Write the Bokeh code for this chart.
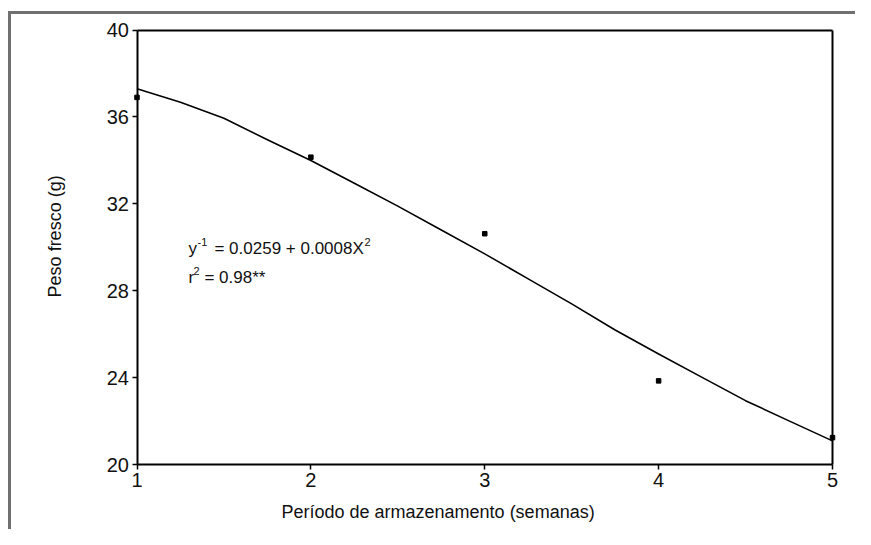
import math
from bokeh.plotting import figure
from bokeh.models import (Range1d, FixedTicker, Label, ColumnDataSource,
                          InlineStyleSheet, LinearAxis)
from bokeh.embed import file_html
from bokeh.resources import INLINE

# ---- data ----
weeks = [1, 2, 3, 4, 5]
fresh_weight = [36.9, 34.15, 30.63, 23.86, 21.25]

fit_x = [1.0, 1.25, 1.5, 1.75, 2.0, 2.25, 2.5, 2.75, 3.0, 3.25, 3.5, 3.75, 4.0, 4.25, 4.5, 4.75, 5.0]
fit_y = [37.30, 36.68, 35.94, 34.95, 34.00, 32.95, 31.90, 30.80, 29.70, 28.55, 27.40, 26.20, 25.10, 24.02, 22.95, 22.02, 21.10]

x_ticks = [1, 2, 3, 4, 5]
y_ticks = [20, 24, 28, 32, 36, 40]
x_min, x_max = 1, 5
y_min, y_max = 20, 40

x_label = "Período de armazenamento (semanas)"
y_label = "Peso fresco (g)"
x_label_pos = (1.831, 17.81)
y_label_pos = (0.528, 27.70)
eq_pos = (1.296, 29.95)
r2_pos = (1.296, 28.62)

FONT = "Liberation Sans"
W, H = 855, 529
# where the axis box sits on the canvas (pixels)
PX_X1, PX_X5, PX_Y40, PX_Y20 = 136.5, 832.0, 29.5, 464.3
sx = (PX_X5 - PX_X1) / (x_max - x_min)
sy = (PX_Y20 - PX_Y40) / (y_max - y_min)
x_lo, x_hi = x_min - PX_X1 / sx, x_min + (W - PX_X1) / sx
y_lo, y_hi = y_min - (H - PX_Y20) / sy, y_max + PX_Y40 / sy

p = figure(width=W, height=H, output_backend="svg", toolbar_location=None,
           x_range=Range1d(x_lo, x_hi), y_range=Range1d(y_lo, y_hi),
           min_border_left=0, min_border_right=0, min_border_top=0, min_border_bottom=0)
p.background_fill_color = "white"
p.border_fill_color = "white"
p.grid.visible = False
p.outline_line_color = None

def style_axis(ax):
    ax.axis_line_width = 2
    ax.axis_line_color = "black"
    ax.major_tick_out = 5
    ax.major_tick_in = 0
    ax.major_tick_line_width = 1.5
    ax.minor_tick_line_color = None
    ax.major_label_text_font = FONT
    ax.major_label_text_font_size = "20px"
    ax.major_label_text_color = "#111111"
    ax.major_label_standoff = 3

style_axis(p.xaxis[0])
style_axis(p.yaxis[0])
p.xaxis.ticker = FixedTicker(ticks=x_ticks)
p.yaxis.ticker = FixedTicker(ticks=y_ticks)
p.xaxis.fixed_location = y_min
p.xaxis.bounds = (x_min, x_max)
p.yaxis.fixed_location = x_min
p.yaxis.bounds = (y_min, y_max)

# top and right box lines
top_ax = LinearAxis(ticker=FixedTicker(ticks=[]), major_label_text_font_size="0px",
                    axis_line_width=2, axis_line_color="black", bounds=(x_min, x_max),
                    fixed_location=y_max,
                    major_tick_line_color=None, minor_tick_line_color=None)
p.add_layout(top_ax, "above")
right_ax = LinearAxis(ticker=FixedTicker(ticks=[]), major_label_text_font_size="0px",
                      axis_line_width=2, axis_line_color="black", bounds=(y_min, y_max),
                      fixed_location=x_max,
                      major_tick_line_color=None, minor_tick_line_color=None)
p.add_layout(right_ax, "right")

src_fit = ColumnDataSource(dict(x=fit_x, y=fit_y))
src_pts = ColumnDataSource(dict(x=weeks, y=fresh_weight))
p.line("x", "y", source=src_fit, line_color="black", line_width=1.6, line_join="round")
p.scatter("x", "y", source=src_pts, marker="square", size=4.5, fill_color="black", line_color="black")

def lab(x, y, text, size, dx=0, dy=0, angle=0.0):
    p.add_layout(Label(x=x, y=y, text=text, x_offset=dx, y_offset=dy, text_font=FONT,
                       text_font_size=size, text_color="#111111", text_baseline="alphabetic",
                       angle=angle))

# axis titles
lab(x_label_pos[0], x_label_pos[1], x_label, "18px")
lab(y_label_pos[0], y_label_pos[1], y_label, "18px", angle=math.pi / 2)

# equation annotation
lab(eq_pos[0], eq_pos[1], "y", "17px")
lab(eq_pos[0], eq_pos[1], "-1", "11px", dx=9, dy=6)
lab(eq_pos[0], eq_pos[1], "= 0.0259 + 0.0008X", "17px", dx=26)
lab(eq_pos[0], eq_pos[1], "2", "11px", dx=176, dy=6)
lab(r2_pos[0], r2_pos[1], "r", "17px")
lab(r2_pos[0], r2_pos[1], "2", "11px", dx=5, dy=6)
lab(r2_pos[0], r2_pos[1], "= 0.98**", "17px", dx=16)

# outer gray frame (only top and left edges visible in the reference)
p.stylesheets = [InlineStyleSheet(css=(
    ":host::after { content: ''; position: absolute; left: 8px; top: 11px; right: 0; bottom: 0;"
    " border-top: 3px solid #707070; border-left: 3px solid #707070;"
    " pointer-events: none; z-index: 100; }"))]

open("out.html", "w").write(file_html(p, INLINE))
